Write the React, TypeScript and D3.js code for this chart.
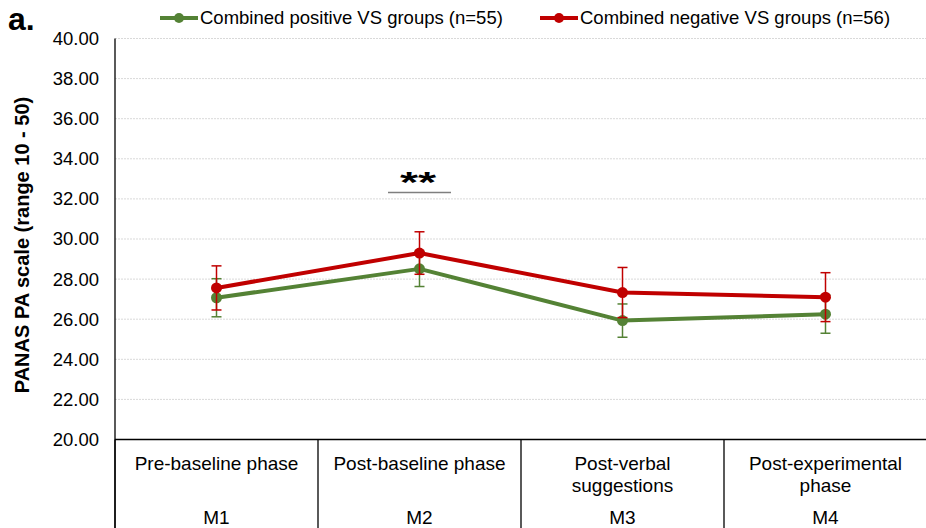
import React from "react";
import * as d3 from "d3";

const categories = ["M1", "M2", "M3", "M4"];
const categoryLabels = [
  ["Pre-baseline phase"],
  ["Post-baseline phase"],
  ["Post-verbal", "suggestions"],
  ["Post-experimental", "phase"],
];
const positiveMeans = [27.07, 28.51, 25.93, 26.25];
const positiveErr = [0.95, 0.88, 0.83, 0.95];
const negativeMeans = [27.56, 29.3, 27.33, 27.1];
const negativeErr = [1.1, 1.06, 1.25, 1.22];
const yTicks = [20, 22, 24, 26, 28, 30, 32, 34, 36, 38, 40];
const seriesNames = ["Combined positive VS groups (n=55)", "Combined negative VS groups (n=56)"];

const W = 926;
const H = 528;
const left = 115;
const right = 927;
const top = 38.5;
const bottom = 439.5;
const font = "Liberation Sans, Arial, sans-serif";

export default function App() {
  const x = d3.scaleBand<string>().domain(categories).range([left, right]).padding(0);
  const y = d3.scaleLinear().domain([20, 40]).range([bottom, top]);
  const cx = (c: string) => (x(c) as number) + x.bandwidth() / 2;
  const line = d3
    .line<number>()
    .x((_, i) => cx(categories[i]))
    .y((d) => y(d));

  const series = [
    { name: seriesNames[0], means: positiveMeans, err: positiveErr, color: "#548235" },
    { name: seriesNames[1], means: negativeMeans, err: negativeErr, color: "#C00000" },
  ];

  return (
    <svg width={W} height={H} style={{ position: "absolute", left: 0, top: 0 }} fontFamily={font}>
      <rect width={W} height={H} fill="#fff" />
      {/* gridlines */}
      {yTicks.slice(1).map((t) => (
        <line key={t} x1={left} x2={right} y1={y(t)} y2={y(t)} stroke="#d9d9d9" strokeWidth={1} strokeDasharray="2,1" />
      ))}
      {/* y tick labels */}
      {yTicks.map((t) => (
        <text key={t} x={99} y={y(t)} dy="0.35em" textAnchor="end" fontSize={18.5} fill="#000">
          {t.toFixed(2)}
        </text>
      ))}
      {/* y axis */}
      <line x1={left} x2={left} y1={top} y2={H} stroke="#000" strokeWidth={1.3} />
      {/* x axis table */}
      <line x1={left} x2={right} y1={bottom} y2={bottom} stroke="#000" strokeWidth={1.3} />
      {categories.map((c) => (
        <line key={c} x1={x(c) as number} x2={x(c) as number} y1={bottom} y2={H} stroke="#000" strokeWidth={1.3} />
      ))}
      {categories.map((c, i) => (
        <g key={c}>
          {categoryLabels[i].map((l, j) => (
            <text key={j} x={cx(c)} y={469.5 + j * 22.5} textAnchor="middle" fontSize={19} fill="#000">
              {l}
            </text>
          ))}
          <text x={cx(c)} y={524} textAnchor="middle" fontSize={19} fill="#000">
            {c}
          </text>
        </g>
      ))}
      {/* y axis title */}
      <text
        transform={`translate(29,245) rotate(-90)`}
        textAnchor="middle"
        fontSize={20}
        fontWeight="bold"
        fill="#000"
      >
        PANAS PA scale (range 10 - 50)
      </text>
      {/* panel label */}
      <text x={8} y={30} fontSize={32} fontWeight="bold" fill="#000">
        a.
      </text>
      {/* series */}
      {series.map((s) => (
        <g key={s.name}>
          {s.means.map((m, i) => {
            const xx = cx(categories[i]);
            return (
              <g key={i} stroke={s.color} strokeWidth={1.5}>
                <line x1={xx} x2={xx} y1={y(m - s.err[i])} y2={y(m + s.err[i])} />
                <line x1={xx - 5} x2={xx + 5} y1={y(m - s.err[i])} y2={y(m - s.err[i])} />
                <line x1={xx - 5} x2={xx + 5} y1={y(m + s.err[i])} y2={y(m + s.err[i])} />
              </g>
            );
          })}
          <path d={line(s.means) || ""} fill="none" stroke={s.color} strokeWidth={4} strokeLinejoin="round" />
          {s.means.map((m, i) => (
            <circle key={i} cx={cx(categories[i])} cy={y(m)} r={5.5} fill={s.color} />
          ))}
        </g>
      ))}
      {/* significance */}
      <text transform="translate(418,192) scale(1.55,1)" textAnchor="middle" fontSize={30} fontWeight="bold" fill="#000">
        **
      </text>
      <line x1={388} x2={451} y1={192.5} y2={192.5} stroke="#7f7f7f" strokeWidth={1.5} />
      {/* legend */}
      {series.map((s, i) => {
        const lx = i === 0 ? 160 : 540;
        return (
          <g key={s.name}>
            <line x1={lx} x2={lx + 38} y1={18} y2={18} stroke={s.color} strokeWidth={4} />
            <circle cx={lx + 19} cy={18} r={5} fill={s.color} />
            <text x={lx + 40} y={18} dy="0.35em" fontSize={18.5} fill="#000">
              {s.name}
            </text>
          </g>
        );
      })}
    </svg>
  );
}
